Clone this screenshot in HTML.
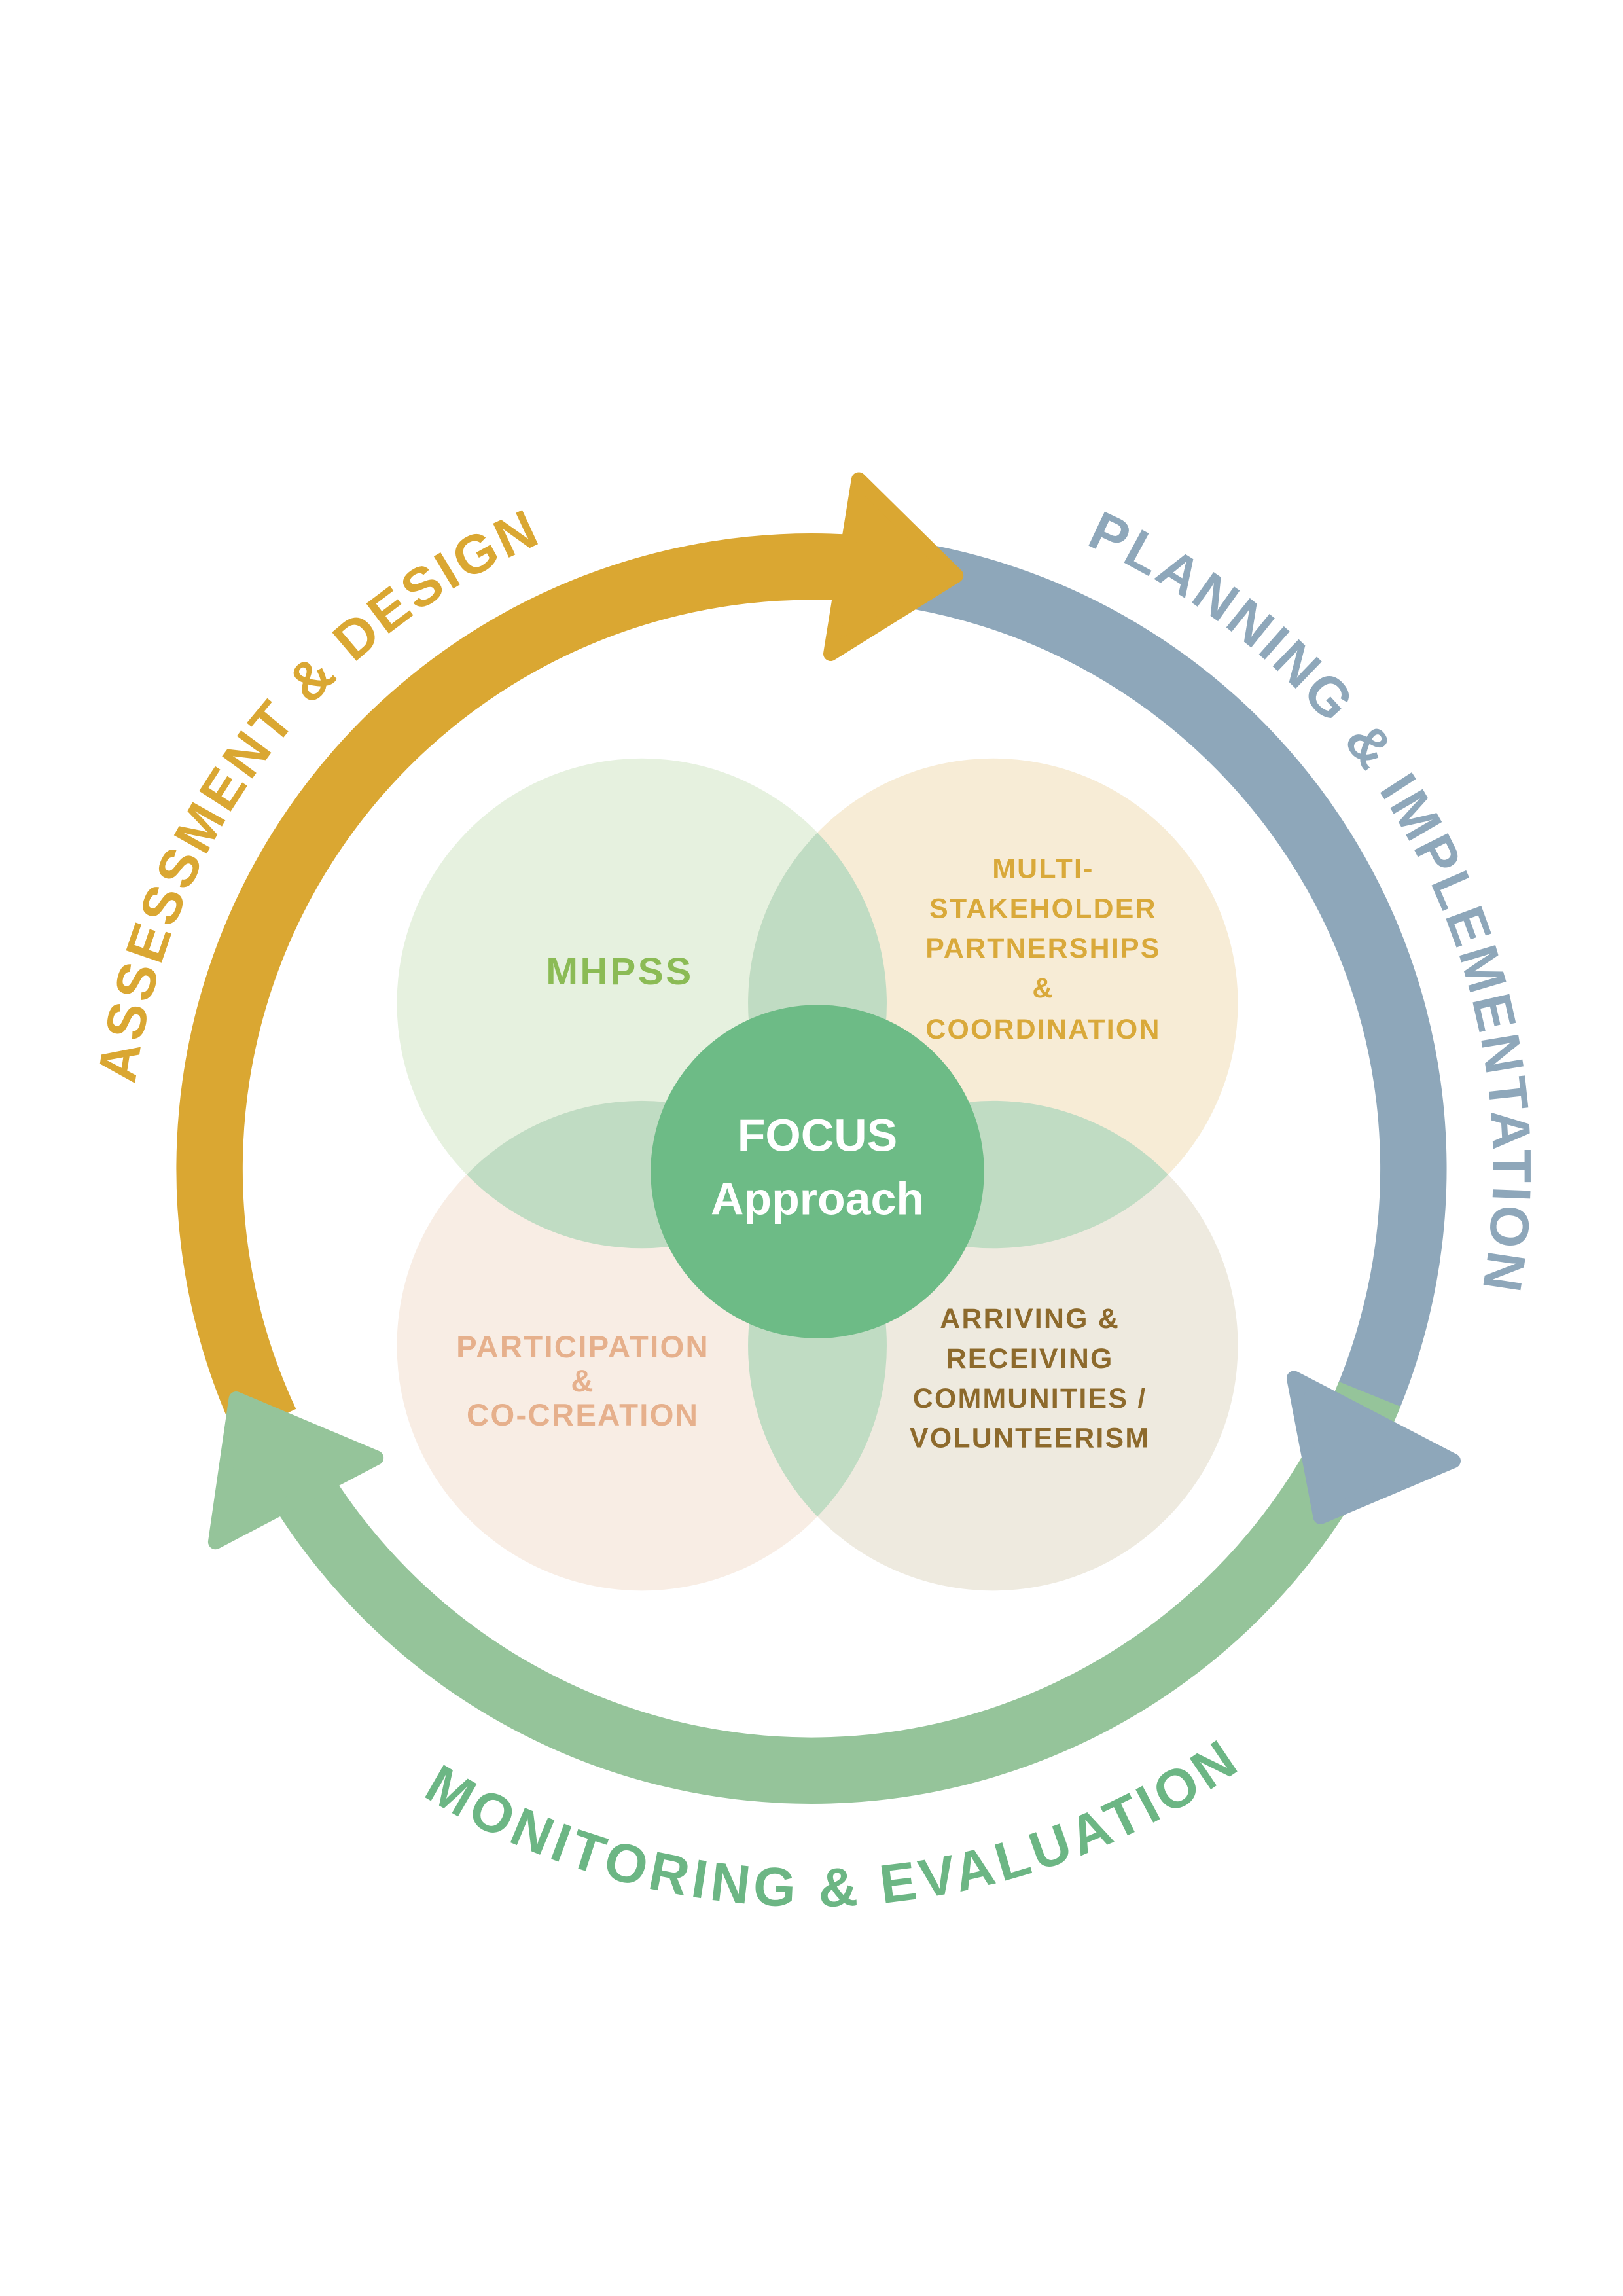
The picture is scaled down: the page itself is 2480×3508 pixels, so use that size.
<!DOCTYPE html>
<html><head><meta charset="utf-8"><style>
html,body{margin:0;padding:0;background:#fff}
svg{display:block}
text{font-family:"Liberation Sans",sans-serif;font-weight:bold}
</style></head><body>
<svg width="2480" height="3508" viewBox="0 0 1100 1556" xmlns="http://www.w3.org/2000/svg">
<defs>
<clipPath id="cTL"><circle cx="435" cy="680" r="166"/></clipPath>
<clipPath id="cTR"><circle cx="673" cy="680" r="166"/></clipPath>
<clipPath id="cBL"><circle cx="435" cy="912" r="166"/></clipPath>
<clipPath id="cBR"><circle cx="673" cy="912" r="166"/></clipPath>
<path id="pA" d="M88.3 775.9 A462 462 0 0 1 407.2 352.6"/>
<path id="pP" d="M685.1 350.2 A462 462 0 0 1 991.8 927.1"/>
<path id="pM" d="M228.6 1175 A500 500 0 0 0 897.4 1151.7"/>
</defs>
<rect width="1100" height="1556" fill="#fff"/>

<circle cx="435" cy="680" r="166" fill="#e6f1df"/>
<circle cx="673" cy="680" r="166" fill="#f7ecd6"/>
<circle cx="435" cy="912" r="166" fill="#f8ede4"/>
<circle cx="673" cy="912" r="166" fill="#eeeadf"/>
<circle cx="435" cy="680" r="166" fill="#c0dcc3" clip-path="url(#cTR)"/>
<circle cx="435" cy="680" r="166" fill="#c0dcc3" clip-path="url(#cBL)"/>
<circle cx="673" cy="912" r="166" fill="#c0dcc3" clip-path="url(#cTR)"/>
<circle cx="673" cy="912" r="166" fill="#c0dcc3" clip-path="url(#cBL)"/>

<circle cx="554" cy="794" r="113" fill="#6dbb86"/>
<text x="554" y="780" font-size="31" fill="#fff" text-anchor="middle" font-family="Liberation Serif,serif">FOCUS</text>
<text x="554" y="823" font-size="31" fill="#fff" text-anchor="middle" font-family="Liberation Serif,serif">Approach</text>

<text x="420" y="667" font-size="26" fill="#8bbb55" text-anchor="middle" letter-spacing="1.5">MHPSS</text>
<g font-size="19" fill="#d9a93a" text-anchor="middle" letter-spacing="1">
<text x="707" y="595">MULTI-</text>
<text x="707" y="622">STAKEHOLDER</text>
<text x="707" y="649">PARTNERSHIPS</text>
<text x="707" y="676">&amp;</text>
<text x="707" y="704">COORDINATION</text>
</g>
<g font-size="21" fill="#e6b08c" text-anchor="middle" letter-spacing="1">
<text x="395" y="920">PARTICIPATION</text>
<text x="395" y="943">&amp;</text>
<text x="395" y="966">CO-CREATION</text>
</g>
<g font-size="19" fill="#8d6a2c" text-anchor="middle" letter-spacing="1">
<text x="698" y="900">ARRIVING &amp;</text>
<text x="698" y="927">RECEIVING</text>
<text x="698" y="954">COMMUNITIES /</text>
<text x="698" y="981">VOLUNTEERISM</text>
</g>

<g fill="none" stroke-width="45">
<path d="M180.2 964.4 A408 408 0 0 1 578.5 385.0" stroke="#daa732"/>
<path d="M585.6 385.6 A408 408 0 0 1 916.7 970.9" stroke="#8ea7ba"/>
<path d="M928.3 944.8 A408 408 0 0 1 200.3 1002.1" stroke="#95c49a"/>
</g>
<g stroke-linejoin="round" stroke-width="10">
<polygon points="582,325 648,390 563,443" fill="#daa732" stroke="#daa732"/>
<polygon points="877,934 985,990 895,1028" fill="#8ea7ba" stroke="#8ea7ba"/>
<polygon points="160,948 255,988 146,1045" fill="#95c49a" stroke="#95c49a"/>
</g>

<text font-size="37" fill="#daa732" letter-spacing="2"><textPath href="#pA" startOffset="50%" text-anchor="middle">ASSESSMENT &amp; DESIGN</textPath></text>
<text font-size="37" fill="#8ea7ba" letter-spacing="2"><textPath href="#pP" startOffset="50%" text-anchor="middle">PLANNING &amp; IMPLEMENTATION</textPath></text>
<text font-size="37" fill="#6cb684" letter-spacing="3"><textPath href="#pM" startOffset="50%" text-anchor="middle">MONITORING &amp; EVALUATION</textPath></text>
</svg>
</body></html>
